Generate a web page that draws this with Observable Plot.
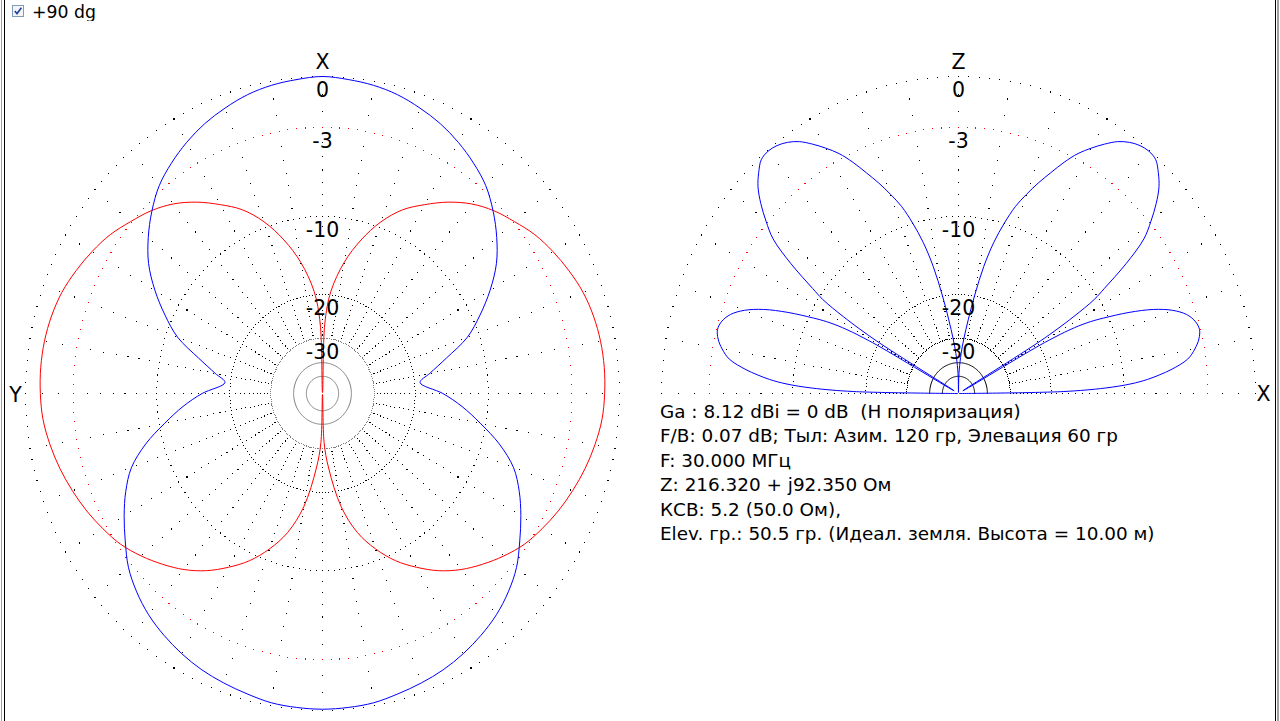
<!DOCTYPE html>
<html><head><meta charset="utf-8">
<script src="https://cdn.jsdelivr.net/npm/d3@7"></script>
<script src="https://cdn.jsdelivr.net/npm/@observablehq/plot@0.6"></script>
<style>
html,body{margin:0;padding:0;background:#fff;}
body{width:1280px;height:721px;overflow:hidden;position:relative;font-family:"DejaVu Sans",sans-serif;color:#000;}
.pane{position:absolute;top:0;width:640px;height:721px;}
.vline{position:absolute;top:0;height:721px;}
#hdr{position:absolute;left:0;top:0;width:300px;height:21px;overflow:hidden;}
#hdr .box{position:absolute;left:12px;top:5px;width:10px;height:10px;border:1px solid #7f9db9;background:#f4f4f4;}
#hdr .lbl{position:absolute;left:32px;top:2px;font-size:17.3px;white-space:pre;}
#info{position:absolute;left:660px;top:399.5px;font-size:18.4px;line-height:24.5px;white-space:pre;}
</style></head><body>
<div class="vline" style="left:1px;width:1px;background:#a0a0a0"></div>
<div class="vline" style="left:4px;width:1px;background:#000"></div>
<div class="vline" style="left:1275px;width:1px;background:#000"></div>
<div class="vline" style="left:1277px;width:2px;background:#a0a0a0"></div>
<div id="hdr"><div class="box"><svg width="10" height="10" style="position:absolute;left:0;top:0"><path d="M1.8,5 L4,7.6 L8.4,1.8" fill="none" stroke="#21449c" stroke-width="1.6"/></svg></div><span class="lbl" id="hdrText"></span></div>
<div class="pane" id="left" style="left:0"></div>
<div class="pane" id="right" style="left:640px"></div>
<div id="info"></div>
<script>
// ---- chart values ----
const headerText = "+90 dg";
const ringDb = [0, -3, -10, -20, -30];
const ringLabels = ["0", "-3", "-10", "-20", "-30"];
const solidRingDb = [-40, -50];
const azAxisNames = ["X", "Y"];
const elAxisNames = ["Z", "X"];

// azimuth pattern (deg from X, counter-clockwise towards Y), blue trace
const azBlueAngle = [0,5,10,15,20,25,30,35,40,45,50,55,60,65,70,75,80,84,90,95,100,105,110,115,120,125,130,135,140,145,150,155,160,165,170,175,180,
  185,190,195,200,205,210,215,220,225,230,235,240,245,250,255,260,265,270,276,280,285,290,295,300,305,310,315,320,325,330,335,340,345,350,355];
const azBlueDb = [0,-0.10,-0.22,-0.42,-0.73,-1.08,-1.53,-2.06,-2.68,-3.56,-4.58,-5.76,-7.35,-9.2,-11.25,-14.4,-17.2,-19.0,-15.5,-12.9,-10.6,-8.3,-6.5,-5.38,-4.46,-3.6,-2.73,-2.1,-1.6,-1.23,-0.92,-0.67,-0.49,-0.33,-0.16,-0.10,-0.07,
  -0.10,-0.16,-0.33,-0.49,-0.67,-0.92,-1.23,-1.6,-2.1,-2.73,-3.6,-4.46,-5.38,-6.5,-8.3,-10.6,-12.9,-15.5,-19.0,-17.2,-14.4,-11.25,-9.2,-7.35,-5.76,-4.58,-3.56,-2.68,-2.06,-1.53,-1.08,-0.73,-0.42,-0.22,-0.10];

// azimuth pattern, red trace
const azRedAngle = [0,2,5,10,15,20,25,30,35,40,45,50,55,60,65,70,75,80,85,90,95,100,105,110,115,120,125,130,135,140,145,150,155,160,165,170,175,178,180,
  182,185,190,195,200,205,210,215,220,225,230,235,240,245,250,255,260,265,270,275,280,285,290,295,300,305,310,315,320,325,330,335,340,345,350,355,358];
const azRedDb = [-99,-26,-19.4,-14.9,-11.85,-9.45,-7.67,-6.42,-5.24,-4.25,-3.5,-2.92,-2.33,-1.89,-1.51,-1.18,-0.98,-0.87,-0.84,-0.88,-0.98,-1.22,-1.52,-1.88,-2.27,-2.72,-3.21,-3.89,-4.67,-5.52,-6.56,-7.85,-9.29,-11.17,-13.55,-17.4,-24.8,-32,-99,
  -32,-24.8,-17.4,-13.55,-11.17,-9.29,-7.85,-6.56,-5.52,-4.67,-3.89,-3.21,-2.72,-2.27,-1.88,-1.52,-1.22,-0.98,-0.88,-0.84,-0.87,-0.98,-1.18,-1.51,-1.89,-2.33,-2.92,-3.5,-4.25,-5.24,-6.42,-7.67,-9.45,-11.85,-14.9,-19.4,-26];

// elevation pattern (deg from the X horizon, 0..180), blue trace
const elAngle = [0,1,2,3,4,5,6,8,10,12,14,16,18,20,22,24,26,27,28,29,30,31,32,33,34,36,38,40,42,44,46,48,50,52,54,56,58,60,62,64,66,68,70,72,74,76,78,80,82,84,86,88,89,90,
  91,92,94,96,98,100,102,104,106,108,110,112,114,116,118,120,122,124,126,128,130,132,134,136,138,140,142,144,146,147,148,149,150,151,152,153,154,156,158,160,162,164,166,168,170,172,174,175,176,177,178,179,180];
const elDb = [-99,-17.9,-12.1,-9.3,-7.7,-6.6,-5.65,-4.28,-3.66,-3.25,-3.07,-3.23,-3.68,-4.55,-5.93,-7.96,-10.5,-11.9,-14.0,-19.0,-70,-19.5,-13.5,-10.4,-9.0,-6.16,-4.0,-2.87,-1.89,-1.09,-0.55,-0.13,-0.04,-0.13,-0.36,-0.73,-1.29,-1.93,-2.64,-3.58,-4.67,-5.74,-6.92,-8.19,-10.0,-12.2,-15.3,-19.8,-24.9,-30,-35.5,-44,-52,-99,
  -52,-44,-35.5,-30,-24.9,-19.8,-15.3,-12.2,-10.0,-8.19,-6.92,-5.74,-4.67,-3.58,-2.64,-1.93,-1.29,-0.73,-0.36,-0.13,-0.04,-0.13,-0.55,-1.09,-1.89,-2.87,-4.0,-6.16,-9.0,-10.4,-13.5,-19.5,-70,-19.0,-14.0,-11.9,-10.5,-7.96,-5.93,-4.55,-3.68,-3.23,-3.07,-3.25,-3.66,-4.28,-5.65,-6.6,-7.7,-9.3,-12.1,-17.9,-99];

const infoLines = [
  "Ga : 8.12 dBi = 0 dB  (H поляризация)",
  "F/B: 0.07 dB; Тыл: Азим. 120 гр, Элевация 60 гр",
  "F: 30.000 МГц",
  "Z: 216.320 + j92.350 Ом",
  "КСВ: 5.2 (50.0 Ом),",
  "Elev. гр.: 50.5 гр. (Идеал. земля. Высота = 10.00 м)"
];

// ---- drawing ----
document.getElementById("hdrText").textContent = headerText;
document.getElementById("info").textContent = infoLines.join("\n");

const FONT = "DejaVu Sans";
const G = Math.log(1 / 0.89) / 2;            // ARRL log scale: 0.89 per 2 dB
const rho = db => Math.exp(db * G);
const rad = a => a * Math.PI / 180;

// azimuth: 0 deg up (X), 90 deg left (Y); elevation: 0 deg right (X), 90 deg up (Z)
const azPt = (a, db) => ({u: -rho(db) * Math.sin(rad(a)), v: rho(db) * Math.cos(rad(a))});
const elPt = (a, db) => ({u: rho(db) * Math.cos(rad(a)), v: rho(db) * Math.sin(rad(a))});

function makePlot(opts) {
  const {full, cx, cy, innerColor, series, names, namePos} = opts;
  const pt = full ? azPt : elPt;
  const tMax = full ? 358 : 180;
  const sMax = full ? 350 : 180;
  const ringColors = ["black", "red", "black", "black", innerColor];
  const ringDots = [];
  ringDb.forEach((db, i) => {
    for (let t = 0; t <= tMax; t += 2) ringDots.push({...pt(t, db), c: ringColors[i]});
  });
  const spokeDots = [];
  for (let a = 0; a <= sMax; a += 10)
    for (let d = -1; d >= -29; d--) spokeDots.push(pt(a, d));
  const solid = [];
  solidRingDb.forEach(db => {
    for (let t = 0; t <= tMax; t += 2) solid.push({...pt(t, db), ring: db});
  });
  const labels = ringDb.map((db, i) => ({u: 0, v: rho(db), t: ringLabels[i]}));

  const marks = [
    Plot.dot(spokeDots, {x: "u", y: "v", r: 0.6, symbol: "square", fill: "black", stroke: null, shapeRendering: "crispEdges"}),
    Plot.dot(ringDots, {x: "u", y: "v", r: 0.6, symbol: "square", fill: "c", stroke: null, shapeRendering: "crispEdges"}),
    Plot.line(solid, {x: "u", y: "v", z: "ring", stroke: innerColor, strokeWidth: 1, curve: full ? "linear-closed" : "linear"})
  ];
  series.forEach(s => {
    const data = s.angle.map((a, i) => pt(a, s.db[i]));
    marks.push(Plot.line(data, {x: "u", y: "v", stroke: s.color, strokeWidth: 1, curve: full ? "catmull-rom-closed" : "catmull-rom"}));
  });
  marks.push(Plot.text(labels, {x: "u", y: "v", text: "t", dy: 14, fontSize: 20.5, fontFamily: FONT, fill: "black"}));
  names.forEach((n, i) => {
    const p = namePos[i];
    marks.push(Plot.text([{u: p.u, v: p.v, t: n}], {x: "u", y: "v", text: "t", dx: p.dx, dy: p.dy, fontSize: 20.5, fontFamily: FONT, fill: "black"}));
  });

  return Plot.plot({
    width: 640, height: 721,
    marginTop: 0, marginRight: 0, marginBottom: 0, marginLeft: 0,
    x: {domain: [-1, 1], range: [cx - 297, cx + 297], axis: null},
    y: {domain: [-1, 1], range: [cy + 317, cy - 317], axis: null},
    color: {type: "identity"},
    style: {background: "transparent", overflow: "visible"},
    marks
  });
}

document.getElementById("left").append(makePlot({
  full: true, cx: 322, cy: 393, innerColor: "#808080",
  series: [
    {angle: azRedAngle, db: azRedDb, color: "#ff0000"},
    {angle: azBlueAngle, db: azBlueDb, color: "#0000ff"}
  ],
  names: azAxisNames,
  namePos: [{u: 0, v: 1, dx: 0, dy: -14}, {u: -1, v: 0, dx: -10, dy: 2}]
}));

document.getElementById("right").append(makePlot({
  full: false, cx: 318, cy: 393, innerColor: "black",
  series: [{angle: elAngle, db: elDb, color: "#0000ff"}],
  names: elAxisNames,
  namePos: [{u: 0, v: 1, dx: 0, dy: -14}, {u: 1, v: 0, dx: 8, dy: 1}]
}));
</script>
</body></html>
